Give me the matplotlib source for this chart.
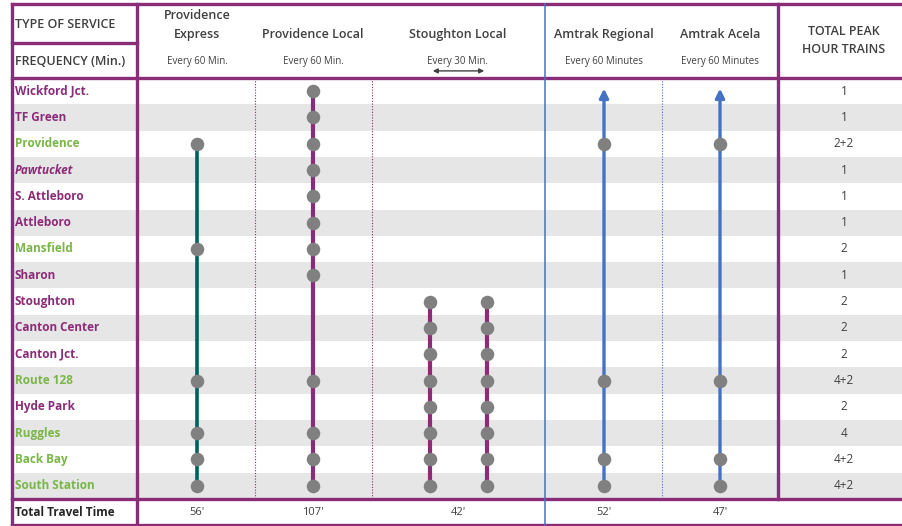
import matplotlib.pyplot as plt

plt.rcParams['font.family'] = ['Open Sans', 'DejaVu Sans']

# stations, top to bottom
stations = ['Wickford Jct.', 'TF Green', 'Providence', 'Pawtucket', 'S. Attleboro',
            'Attleboro', 'Mansfield', 'Sharon', 'Stoughton', 'Canton Center',
            'Canton Jct.', 'Route 128', 'Hyde Park', 'Ruggles', 'Back Bay', 'South Station']
green_stations = ['Providence', 'Mansfield', 'Route 128', 'Ruggles', 'Back Bay', 'South Station']
italic_stations = ['Pawtucket']
totals = ['1', '1', '2+2', '1', '1', '1', '2', '1', '2', '2', '2', '4+2', '2', '4', '4+2', '4+2']

services = ['Providence\nExpress', 'Providence Local', 'Stoughton Local', 'Amtrak Regional', 'Amtrak Acela']
frequency = ['Every 60 Min.', 'Every 60 Min.', 'Every 30 Min.', 'Every 60 Minutes', 'Every 60 Minutes']
travel_time = ["56'", "107'", "42'", "52'", "47'"]

# stops served by each line
express_stops = ['Providence', 'Mansfield', 'Route 128', 'Ruggles', 'Back Bay', 'South Station']
local_stops = ['Wickford Jct.', 'TF Green', 'Providence', 'Pawtucket', 'S. Attleboro', 'Attleboro',
               'Mansfield', 'Sharon', 'Route 128', 'Ruggles', 'Back Bay', 'South Station']
stoughton_stops = ['Stoughton', 'Canton Center', 'Canton Jct.', 'Route 128', 'Hyde Park',
                   'Ruggles', 'Back Bay', 'South Station']
amtrak_stops = ['Providence', 'Route 128', 'Back Bay', 'South Station']

# colours
PURPLE = '#8B2C78'
GREEN = '#7AB648'
TEAL = '#00605E'
BLUE = '#4472C4'
DOT = '#808080'
BAND = '#E6E6E6'
TXT = '#404040'

# layout (x in pixels, y in rows)
x_left, x_lab, x_right = 12, 137, 910
col_x = [197, 313, 458, 604, 720]
stough_x = [430, 487]
x_total = 844
y_top, y_mid, y_head = -3.31, -1.83, -0.5
n = len(stations)
y_bot = n - 0.5
y_end = n + 0.49

fig = plt.figure(figsize=(9.03, 5.26), dpi=100)
ax = fig.add_axes([0, 0, 1, 1])
ax.set_xlim(0, 903)
ax.set_ylim(16.53, -3.465)
ax.axis('off')

idx = {s: i for i, s in enumerate(stations)}

# alternating bands
for i in range(1, n, 2):
    ax.axhspan(i - 0.5, i + 0.5, xmin=x_left / 903, xmax=1, color=BAND, lw=0, zorder=0)

# grid lines
lw_frame = 2.4
for yv in [y_top, y_head, y_bot, y_end]:
    ax.plot([x_left, x_right], [yv, yv], color=PURPLE, lw=lw_frame, zorder=3)
ax.plot([x_left, x_lab], [y_mid, y_mid], color=PURPLE, lw=lw_frame, zorder=3)
ax.plot([x_left, x_left], [y_top, y_end], color=PURPLE, lw=lw_frame, zorder=3)
ax.plot([x_lab, x_lab], [y_top, y_end], color=PURPLE, lw=lw_frame, zorder=3)
ax.plot([778, 778], [y_top, y_bot], color=PURPLE, lw=lw_frame, zorder=3)
ax.plot([545, 545], [y_top, y_end], color=BLUE, lw=1.1, zorder=3)
for xv in [255, 372]:
    ax.plot([xv, xv], [y_head, y_bot], color=PURPLE, lw=0.8, ls=(0, (1, 1.5)), zorder=2)
ax.plot([662, 662], [y_head, y_bot], color=BLUE, lw=0.8, ls=(0, (1, 1.5)), zorder=2)

# header text
ax.text(15, -2.55, 'TYPE OF SERVICE', fontsize=9, fontweight='semibold', color=TXT, va='center')
ax.text(15, -1.11, 'FREQUENCY (Min.)', fontsize=9, fontweight='semibold', color=TXT, va='center')
for xc, s, f in zip(col_x, services, frequency):
    if '\n' in s:
        a, b = s.split('\n')
        ax.text(xc, -2.89, a, fontsize=9, fontweight='semibold', color=TXT, ha='center', va='center')
        ax.text(xc, -2.17, b, fontsize=9, fontweight='semibold', color=TXT, ha='center', va='center')
    else:
        ax.text(xc, -2.17, s, fontsize=9, fontweight='semibold', color=TXT, ha='center', va='center')
    ax.text(xc, -1.11, f, fontsize=7, color=TXT, ha='center', va='center')
ax.annotate('', xy=(stough_x[0], -0.77), xytext=(stough_x[1], -0.77),
            arrowprops=dict(arrowstyle='<|-|>', color=TXT, lw=1.0, mutation_scale=7))
ax.text(x_total, -2.25, 'TOTAL PEAK', fontsize=9, fontweight='semibold', color=TXT, ha='center', va='center')
ax.text(x_total, -1.6, 'HOUR TRAINS', fontsize=9, fontweight='semibold', color=TXT, ha='center', va='center')

# station labels and totals
for i, s in enumerate(stations):
    c = GREEN if s in green_stations else PURPLE
    st = 'italic' if s in italic_stations else 'normal'
    ax.text(15, i, s, fontsize=8.5, fontweight='bold', fontstyle=st, color=c, va='center')
    ax.text(x_total, i, totals[i], fontsize=8.5, color=TXT, ha='center', va='center')

# travel time row
ax.text(15, n, 'Total Travel Time', fontsize=8.5, fontweight='bold', color='#262626', va='center')
for xc, t in zip(col_x, travel_time):
    ax.text(xc, n, t, fontsize=8, color=TXT, ha='center', va='center')


def draw_line(x, stops, color, lw):
    ys = [idx[s] for s in stops]
    ax.plot([x, x], [min(ys), max(ys)], color=color, lw=lw, zorder=4, solid_capstyle='butt')
    ax.scatter([x] * len(ys), ys, s=95, color=DOT, zorder=5, lw=0)


draw_line(col_x[0], express_stops, TEAL, 2.6)
draw_line(col_x[1], local_stops, PURPLE, 3.0)
for xs in stough_x:
    draw_line(xs, stoughton_stops, PURPLE, 3.0)
for xa in col_x[3:]:
    ax.annotate('', xy=(xa, -0.1), xytext=(xa, idx['South Station']),
                arrowprops=dict(arrowstyle='-|>', color=BLUE, lw=2.4, mutation_scale=13,
                                shrinkA=0, shrinkB=0), zorder=4)
    ys = [idx[s] for s in amtrak_stops]
    ax.scatter([xa] * len(ys), ys, s=95, color=DOT, zorder=5, lw=0)

fig.savefig('out.png', dpi=100)
